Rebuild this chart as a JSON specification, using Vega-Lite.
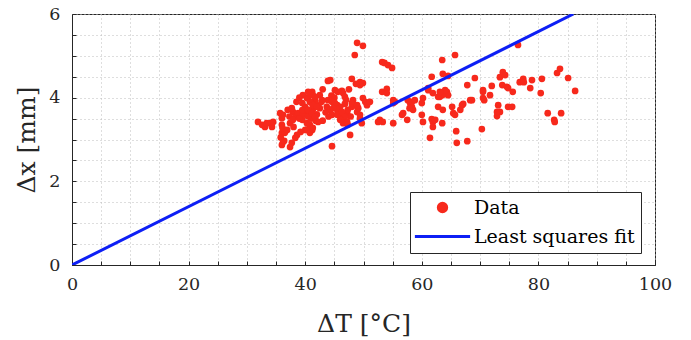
{
  "$schema": "https://vega.github.io/schema/vega-lite/v6.json",
  "width": 583,
  "height": 251,
  "autosize": {"type": "none"},
  "padding": {"left": 72, "top": 14, "right": 36, "bottom": 75},
  "background": "white",
  "config": {
    "view": {"stroke": "#262626", "strokeWidth": 1},
    "font": "DejaVu Serif",
    "axis": {
      "domainColor": "#262626",
      "tickColor": "#262626",
      "labelColor": "#262626",
      "titleColor": "#262626",
      "labelFont": "DejaVu Serif",
      "titleFont": "DejaVu Serif",
      "labelFontSize": 17.5,
      "titleFontSize": 25,
      "titleFontWeight": "normal",
      "gridColor": "#bdbdbd",
      "gridDash": [1, 3],
      "gridWidth": 1,
      "tickSize": -4,
      "labelFlush": false,
      "labelOverlap": false
    },
    "legend": {
      "symbolSize": 70,
      "symbolStrokeWidth": 3
    }
  },
  "datasets": {
    "pts": [
      {"dT": 31.9, "dx": 3.42, "series": "Data"},
      {"dT": 32.6, "dx": 3.35, "series": "Data"},
      {"dT": 33.1, "dx": 3.30, "series": "Data"},
      {"dT": 34.0, "dx": 3.39, "series": "Data"},
      {"dT": 34.3, "dx": 3.30, "series": "Data"},
      {"dT": 34.5, "dx": 3.42, "series": "Data"},
      {"dT": 33.4, "dx": 3.39, "series": "Data"},
      {"dT": 36.0, "dx": 3.51, "series": "Data"},
      {"dT": 36.2, "dx": 3.59, "series": "Data"},
      {"dT": 35.7, "dx": 3.63, "series": "Data"},
      {"dT": 36.0, "dx": 3.35, "series": "Data"},
      {"dT": 36.0, "dx": 3.16, "series": "Data"},
      {"dT": 36.2, "dx": 2.94, "series": "Data"},
      {"dT": 36.0, "dx": 2.87, "series": "Data"},
      {"dT": 36.4, "dx": 2.97, "series": "Data"},
      {"dT": 37.0, "dx": 3.71, "series": "Data"},
      {"dT": 37.9, "dx": 3.66, "series": "Data"},
      {"dT": 37.7, "dx": 3.75, "series": "Data"},
      {"dT": 37.3, "dx": 3.55, "series": "Data"},
      {"dT": 38.3, "dx": 3.54, "series": "Data"},
      {"dT": 38.8, "dx": 3.63, "series": "Data"},
      {"dT": 39.5, "dx": 3.47, "series": "Data"},
      {"dT": 40.3, "dx": 3.39, "series": "Data"},
      {"dT": 40.8, "dx": 3.30, "series": "Data"},
      {"dT": 41.2, "dx": 3.23, "series": "Data"},
      {"dT": 40.0, "dx": 3.23, "series": "Data"},
      {"dT": 39.2, "dx": 3.18, "series": "Data"},
      {"dT": 38.6, "dx": 3.11, "series": "Data"},
      {"dT": 38.3, "dx": 3.04, "series": "Data"},
      {"dT": 37.7, "dx": 2.92, "series": "Data"},
      {"dT": 37.4, "dx": 2.82, "series": "Data"},
      {"dT": 36.5, "dx": 3.16, "series": "Data"},
      {"dT": 35.8, "dx": 3.05, "series": "Data"},
      {"dT": 36.1, "dx": 3.28, "series": "Data"},
      {"dT": 36.9, "dx": 3.23, "series": "Data"},
      {"dT": 37.4, "dx": 3.39, "series": "Data"},
      {"dT": 37.9, "dx": 3.47, "series": "Data"},
      {"dT": 39.6, "dx": 4.06, "series": "Data"},
      {"dT": 40.3, "dx": 3.99, "series": "Data"},
      {"dT": 41.2, "dx": 4.14, "series": "Data"},
      {"dT": 42.5, "dx": 4.06, "series": "Data"},
      {"dT": 41.3, "dx": 4.06, "series": "Data"},
      {"dT": 41.7, "dx": 3.94, "series": "Data"},
      {"dT": 41.2, "dx": 3.87, "series": "Data"},
      {"dT": 42.0, "dx": 3.82, "series": "Data"},
      {"dT": 42.5, "dx": 3.75, "series": "Data"},
      {"dT": 41.3, "dx": 3.71, "series": "Data"},
      {"dT": 40.8, "dx": 3.66, "series": "Data"},
      {"dT": 40.3, "dx": 3.63, "series": "Data"},
      {"dT": 39.6, "dx": 3.59, "series": "Data"},
      {"dT": 40.0, "dx": 3.78, "series": "Data"},
      {"dT": 39.5, "dx": 3.87, "series": "Data"},
      {"dT": 38.5, "dx": 3.90, "series": "Data"},
      {"dT": 39.0, "dx": 4.00, "series": "Data"},
      {"dT": 39.5, "dx": 3.70, "series": "Data"},
      {"dT": 40.5, "dx": 4.00, "series": "Data"},
      {"dT": 41.0, "dx": 3.50, "series": "Data"},
      {"dT": 42.0, "dx": 3.60, "series": "Data"},
      {"dT": 42.8, "dx": 3.90, "series": "Data"},
      {"dT": 43.0, "dx": 4.20, "series": "Data"},
      {"dT": 38.0, "dx": 3.30, "series": "Data"},
      {"dT": 39.0, "dx": 3.50, "series": "Data"},
      {"dT": 40.5, "dx": 3.55, "series": "Data"},
      {"dT": 41.8, "dx": 3.45, "series": "Data"},
      {"dT": 43.0, "dx": 3.45, "series": "Data"},
      {"dT": 40.8, "dx": 4.10, "series": "Data"},
      {"dT": 43.9, "dx": 4.40, "series": "Data"},
      {"dT": 44.3, "dx": 4.42, "series": "Data"},
      {"dT": 48.0, "dx": 4.45, "series": "Data"},
      {"dT": 49.4, "dx": 4.37, "series": "Data"},
      {"dT": 49.9, "dx": 4.35, "series": "Data"},
      {"dT": 49.4, "dx": 4.30, "series": "Data"},
      {"dT": 48.7, "dx": 4.33, "series": "Data"},
      {"dT": 45.1, "dx": 4.18, "series": "Data"},
      {"dT": 45.6, "dx": 4.14, "series": "Data"},
      {"dT": 46.3, "dx": 4.16, "series": "Data"},
      {"dT": 46.5, "dx": 4.11, "series": "Data"},
      {"dT": 43.9, "dx": 3.94, "series": "Data"},
      {"dT": 44.8, "dx": 3.90, "series": "Data"},
      {"dT": 45.5, "dx": 3.82, "series": "Data"},
      {"dT": 46.0, "dx": 3.78, "series": "Data"},
      {"dT": 45.6, "dx": 3.66, "series": "Data"},
      {"dT": 46.3, "dx": 3.59, "series": "Data"},
      {"dT": 46.5, "dx": 3.51, "series": "Data"},
      {"dT": 47.2, "dx": 3.63, "series": "Data"},
      {"dT": 47.3, "dx": 3.71, "series": "Data"},
      {"dT": 48.0, "dx": 3.78, "series": "Data"},
      {"dT": 48.2, "dx": 3.94, "series": "Data"},
      {"dT": 48.5, "dx": 3.82, "series": "Data"},
      {"dT": 48.9, "dx": 3.66, "series": "Data"},
      {"dT": 49.1, "dx": 3.75, "series": "Data"},
      {"dT": 49.9, "dx": 3.99, "series": "Data"},
      {"dT": 50.3, "dx": 3.90, "series": "Data"},
      {"dT": 50.6, "dx": 3.82, "series": "Data"},
      {"dT": 49.4, "dx": 3.51, "series": "Data"},
      {"dT": 49.7, "dx": 3.39, "series": "Data"},
      {"dT": 43.7, "dx": 3.78, "series": "Data"},
      {"dT": 44.3, "dx": 3.71, "series": "Data"},
      {"dT": 44.6, "dx": 3.59, "series": "Data"},
      {"dT": 44.6, "dx": 2.84, "series": "Data"},
      {"dT": 47.7, "dx": 3.11, "series": "Data"},
      {"dT": 48.9, "dx": 5.31, "series": "Data"},
      {"dT": 49.9, "dx": 5.24, "series": "Data"},
      {"dT": 48.5, "dx": 5.02, "series": "Data"},
      {"dT": 44.5, "dx": 4.05, "series": "Data"},
      {"dT": 45.0, "dx": 4.00, "series": "Data"},
      {"dT": 46.8, "dx": 4.02, "series": "Data"},
      {"dT": 47.5, "dx": 4.20, "series": "Data"},
      {"dT": 47.0, "dx": 3.95, "series": "Data"},
      {"dT": 45.3, "dx": 3.75, "series": "Data"},
      {"dT": 46.8, "dx": 3.85, "series": "Data"},
      {"dT": 43.5, "dx": 3.65, "series": "Data"},
      {"dT": 44.0, "dx": 3.55, "series": "Data"},
      {"dT": 47.8, "dx": 3.55, "series": "Data"},
      {"dT": 40.5, "dx": 4.14, "series": "Data"},
      {"dT": 41.7, "dx": 4.02, "series": "Data"},
      {"dT": 42.9, "dx": 3.94, "series": "Data"},
      {"dT": 40.8, "dx": 3.90, "series": "Data"},
      {"dT": 41.3, "dx": 3.82, "series": "Data"},
      {"dT": 42.0, "dx": 3.78, "series": "Data"},
      {"dT": 40.5, "dx": 3.71, "series": "Data"},
      {"dT": 41.2, "dx": 3.63, "series": "Data"},
      {"dT": 41.7, "dx": 3.54, "series": "Data"},
      {"dT": 42.2, "dx": 3.42, "series": "Data"},
      {"dT": 40.8, "dx": 3.35, "series": "Data"},
      {"dT": 41.3, "dx": 3.28, "series": "Data"},
      {"dT": 40.3, "dx": 3.23, "series": "Data"},
      {"dT": 40.8, "dx": 3.16, "series": "Data"},
      {"dT": 44.6, "dx": 3.90, "series": "Data"},
      {"dT": 45.1, "dx": 3.87, "series": "Data"},
      {"dT": 44.8, "dx": 3.75, "series": "Data"},
      {"dT": 45.5, "dx": 3.59, "series": "Data"},
      {"dT": 46.3, "dx": 3.66, "series": "Data"},
      {"dT": 46.8, "dx": 3.54, "series": "Data"},
      {"dT": 46.0, "dx": 3.47, "series": "Data"},
      {"dT": 46.5, "dx": 3.39, "series": "Data"},
      {"dT": 47.2, "dx": 3.42, "series": "Data"},
      {"dT": 47.3, "dx": 3.35, "series": "Data"},
      {"dT": 48.0, "dx": 3.87, "series": "Data"},
      {"dT": 48.9, "dx": 3.82, "series": "Data"},
      {"dT": 53.2, "dx": 4.85, "series": "Data"},
      {"dT": 53.6, "dx": 4.83, "series": "Data"},
      {"dT": 54.2, "dx": 4.78, "series": "Data"},
      {"dT": 54.9, "dx": 4.71, "series": "Data"},
      {"dT": 65.7, "dx": 5.02, "series": "Data"},
      {"dT": 63.5, "dx": 4.90, "series": "Data"},
      {"dT": 61.7, "dx": 4.50, "series": "Data"},
      {"dT": 63.6, "dx": 4.57, "series": "Data"},
      {"dT": 64.5, "dx": 4.52, "series": "Data"},
      {"dT": 53.2, "dx": 4.14, "series": "Data"},
      {"dT": 54.0, "dx": 4.21, "series": "Data"},
      {"dT": 54.0, "dx": 4.11, "series": "Data"},
      {"dT": 55.1, "dx": 3.94, "series": "Data"},
      {"dT": 55.4, "dx": 3.90, "series": "Data"},
      {"dT": 51.1, "dx": 3.90, "series": "Data"},
      {"dT": 57.6, "dx": 3.94, "series": "Data"},
      {"dT": 58.0, "dx": 3.87, "series": "Data"},
      {"dT": 58.3, "dx": 3.78, "series": "Data"},
      {"dT": 58.5, "dx": 3.71, "series": "Data"},
      {"dT": 56.8, "dx": 3.63, "series": "Data"},
      {"dT": 56.6, "dx": 3.59, "series": "Data"},
      {"dT": 52.8, "dx": 3.47, "series": "Data"},
      {"dT": 53.3, "dx": 3.42, "series": "Data"},
      {"dT": 52.5, "dx": 3.42, "series": "Data"},
      {"dT": 55.1, "dx": 3.39, "series": "Data"},
      {"dT": 57.5, "dx": 3.47, "series": "Data"},
      {"dT": 60.0, "dx": 3.59, "series": "Data"},
      {"dT": 60.2, "dx": 3.42, "series": "Data"},
      {"dT": 60.2, "dx": 3.99, "series": "Data"},
      {"dT": 61.1, "dx": 4.18, "series": "Data"},
      {"dT": 61.9, "dx": 4.11, "series": "Data"},
      {"dT": 63.1, "dx": 4.02, "series": "Data"},
      {"dT": 63.6, "dx": 4.11, "series": "Data"},
      {"dT": 64.3, "dx": 4.14, "series": "Data"},
      {"dT": 64.5, "dx": 4.06, "series": "Data"},
      {"dT": 63.5, "dx": 4.06, "series": "Data"},
      {"dT": 62.8, "dx": 3.78, "series": "Data"},
      {"dT": 63.6, "dx": 3.71, "series": "Data"},
      {"dT": 61.7, "dx": 3.49, "series": "Data"},
      {"dT": 61.9, "dx": 3.42, "series": "Data"},
      {"dT": 62.3, "dx": 3.47, "series": "Data"},
      {"dT": 61.9, "dx": 3.30, "series": "Data"},
      {"dT": 63.5, "dx": 3.39, "series": "Data"},
      {"dT": 61.4, "dx": 3.04, "series": "Data"},
      {"dT": 65.2, "dx": 3.78, "series": "Data"},
      {"dT": 65.4, "dx": 3.63, "series": "Data"},
      {"dT": 65.7, "dx": 3.59, "series": "Data"},
      {"dT": 65.9, "dx": 3.20, "series": "Data"},
      {"dT": 66.0, "dx": 2.92, "series": "Data"},
      {"dT": 67.8, "dx": 2.96, "series": "Data"},
      {"dT": 66.6, "dx": 3.71, "series": "Data"},
      {"dT": 67.1, "dx": 3.85, "series": "Data"},
      {"dT": 67.8, "dx": 4.30, "series": "Data"},
      {"dT": 68.3, "dx": 3.94, "series": "Data"},
      {"dT": 69.1, "dx": 4.47, "series": "Data"},
      {"dT": 70.3, "dx": 3.25, "series": "Data"},
      {"dT": 70.5, "dx": 4.14, "series": "Data"},
      {"dT": 70.5, "dx": 3.99, "series": "Data"},
      {"dT": 70.7, "dx": 3.94, "series": "Data"},
      {"dT": 72.0, "dx": 4.28, "series": "Data"},
      {"dT": 71.7, "dx": 4.06, "series": "Data"},
      {"dT": 73.1, "dx": 3.82, "series": "Data"},
      {"dT": 73.4, "dx": 3.66, "series": "Data"},
      {"dT": 72.9, "dx": 3.56, "series": "Data"},
      {"dT": 73.4, "dx": 4.49, "series": "Data"},
      {"dT": 73.9, "dx": 4.61, "series": "Data"},
      {"dT": 74.3, "dx": 4.54, "series": "Data"},
      {"dT": 73.8, "dx": 4.30, "series": "Data"},
      {"dT": 74.6, "dx": 4.26, "series": "Data"},
      {"dT": 74.8, "dx": 3.78, "series": "Data"},
      {"dT": 76.5, "dx": 5.26, "series": "Data"},
      {"dT": 75.6, "dx": 4.14, "series": "Data"},
      {"dT": 74.8, "dx": 4.23, "series": "Data"},
      {"dT": 76.8, "dx": 4.37, "series": "Data"},
      {"dT": 77.4, "dx": 4.45, "series": "Data"},
      {"dT": 77.5, "dx": 4.37, "series": "Data"},
      {"dT": 78.9, "dx": 4.42, "series": "Data"},
      {"dT": 78.6, "dx": 4.23, "series": "Data"},
      {"dT": 80.6, "dx": 4.45, "series": "Data"},
      {"dT": 80.4, "dx": 4.11, "series": "Data"},
      {"dT": 83.2, "dx": 4.59, "series": "Data"},
      {"dT": 83.7, "dx": 4.69, "series": "Data"},
      {"dT": 85.1, "dx": 4.47, "series": "Data"},
      {"dT": 86.3, "dx": 4.16, "series": "Data"},
      {"dT": 75.5, "dx": 3.78, "series": "Data"},
      {"dT": 81.6, "dx": 3.63, "series": "Data"},
      {"dT": 83.9, "dx": 3.63, "series": "Data"},
      {"dT": 82.7, "dx": 3.47, "series": "Data"},
      {"dT": 82.8, "dx": 3.42, "series": "Data"},
      {"dT": 55.1, "dx": 3.87, "series": "Data"},
      {"dT": 58.3, "dx": 3.90, "series": "Data"},
      {"dT": 57.9, "dx": 3.75, "series": "Data"},
      {"dT": 49.4, "dx": 3.59, "series": "Data"},
      {"dT": 61.1, "dx": 4.23, "series": "Data"},
      {"dT": 62.8, "dx": 4.02, "series": "Data"},
      {"dT": 64.0, "dx": 4.18, "series": "Data"},
      {"dT": 63.1, "dx": 4.14, "series": "Data"},
      {"dT": 60.0, "dx": 3.87, "series": "Data"},
      {"dT": 58.8, "dx": 3.94, "series": "Data"},
      {"dT": 66.9, "dx": 3.82, "series": "Data"},
      {"dT": 70.5, "dx": 4.18, "series": "Data"},
      {"dT": 68.6, "dx": 3.94, "series": "Data"},
      {"dT": 72.9, "dx": 3.66, "series": "Data"}
    ],
    "fit": [
      {"dT": 0, "dx": 0, "series": "Least squares fit"},
      {"dT": 86, "dx": 6, "series": "Least squares fit"}
    ]
  },
  "encoding": {
    "x": {
      "field": "dT",
      "type": "quantitative",
      "scale": {"domain": [0, 100], "nice": false},
      "axis": {
        "title": "ΔT [°C]",
        "values": [0, 5, 10, 15, 20, 25, 30, 35, 40, 45, 50, 55, 60, 65, 70, 75, 80, 85, 90, 95, 100],
        "labelExpr": "datum.value % 20 === 0 ? format(datum.value, 'd') : ''",
        "labelPadding": 14,
        "labelBaseline": "top",
        "titleBaseline": "alphabetic",
        "titleY": 66
      }
    },
    "y": {
      "field": "dx",
      "type": "quantitative",
      "scale": {"domain": [0, 6], "nice": false},
      "axis": {
        "title": "Δx [mm]",
        "values": [0, 0.5, 1, 1.5, 2, 2.5, 3, 3.5, 4, 4.5, 5, 5.5, 6],
        "labelExpr": "datum.value % 2 === 0 ? format(datum.value, 'd') : ''",
        "labelPadding": 16,
        "titleBaseline": "alphabetic",
        "titleX": -38
      }
    },
    "color": {
      "field": "series",
      "type": "nominal",
      "scale": {"domain": ["Data", "Least squares fit"], "range": ["#f7291c", "#0d1ff5"]},
      "legend": {
        "title": null,
        "orient": "none",
        "legendX": 338,
        "legendY": 178,
        "padding": 6,
        "rowPadding": 9,
        "symbolOffset": 17,
        "labelFontSize": 19,
        "labelFont": "DejaVu Serif",
        "labelColor": "#000000",
        "labelOffset": 22,
        "labelLimit": 400,
        "strokeColor": "#262626",
        "fillColor": "white",
        "encode": {
          "symbols": {
            "update": {
              "shape": {"signal": "datum.value === 'Data' ? 'circle' : 'M-6.6,0H6.6'"},
              "size": {"value": 70},
              "fill": {"signal": "datum.value === 'Data' ? '#f7291c' : 'transparent'"},
              "stroke": {"signal": "datum.value === 'Data' ? 'transparent' : '#0d1ff5'"},
              "strokeWidth": {"value": 3},
              "opacity": {"value": 1}
            }
          }
        }
      }
    }
  },
  "layer": [
    {
      "data": {"name": "pts"},
      "mark": {"type": "point", "filled": true, "size": 45, "opacity": 1}
    },
    {
      "data": {"name": "fit"},
      "mark": {"type": "line", "strokeWidth": 3, "clip": true}
    }
  ]
}
